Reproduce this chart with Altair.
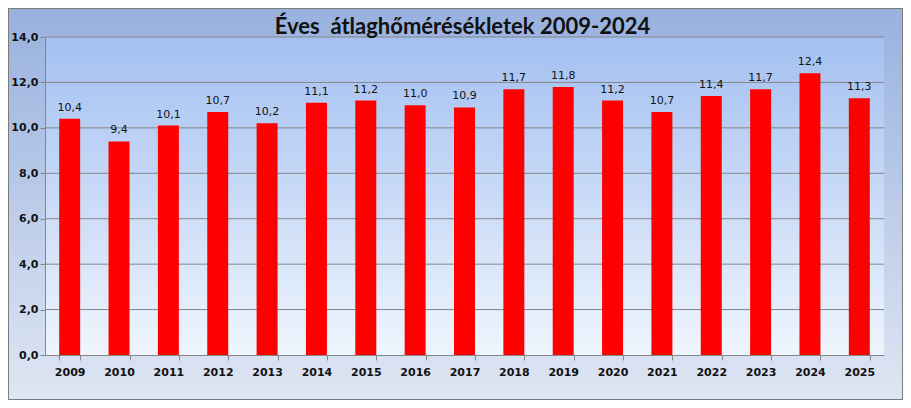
import altair as alt
import pandas as pd

years = ["2009", "2010", "2011", "2012", "2013", "2014", "2015", "2016", "2017",
         "2018", "2019", "2020", "2021", "2022", "2023", "2024", "2025"]
temps = [10.4, 9.4, 10.1, 10.7, 10.2, 11.1, 11.2, 11.0, 10.9,
         11.7, 11.8, 11.2, 10.7, 11.4, 11.7, 12.4, 11.3]
y_ticks = [0, 2, 4, 6, 8, 10, 12, 14]
title_text = "Éves\u00a0 átlaghőmérésékletek 2009-2024"

W, H = 839, 318
PAD = {"left": 37, "top": 29, "right": 19, "bottom": 45}

df = pd.DataFrame({"year": years, "temp": temps})
df["label"] = [f"{t:.1f}".replace(".", ",") for t in temps]
grid_df = pd.DataFrame({"temp": y_ticks[1:]})
one = pd.DataFrame({"a": [0]})

def vgrad(c1, c2):
    return alt.LinearGradient(
        gradient="linear", x1=0, x2=0, y1=0, y2=1,
        stops=[alt.GradientStop(color=c1, offset=0), alt.GradientStop(color=c2, offset=1)],
    )

yscale = alt.Scale(domain=[0, 14], nice=False, zero=True)
xscale = alt.Scale(paddingInner=0.575, paddingOuter=0.2875)

yaxis = alt.Axis(values=y_ticks, grid=False, tickSize=5, labelPadding=2,
                 labelExpr="replace(format(datum.value, '.1f'), '.', ',')",
                 domainColor="#868686", tickColor="#868686",
                 labelFont="DejaVu Sans", labelFontWeight="bold",
                 labelFontSize=11, labelColor="#111111", zindex=1)

outer = alt.Chart(one).mark_rect(
    fill=vgrad("#98b1de", "#dfe6f3"), stroke="#7c7c7c", strokeWidth=2
).encode(
    x=alt.value(-PAD["left"]), x2=alt.value(W + PAD["right"]),
    y=alt.value(-PAD["top"]), y2=alt.value(H + PAD["bottom"]),
)

plot_bg = alt.Chart(one).mark_rect(fill=vgrad("#a3c0f1", "#eff5fd")).encode(
    x=alt.value(0), x2=alt.value(W), y=alt.value(0), y2=alt.value(H)
)

grid = alt.Chart(grid_df).mark_rule(color="#868686", strokeWidth=1).encode(
    y=alt.Y("temp:Q", scale=yscale, axis=yaxis, title=None)
)

bars = alt.Chart(df).mark_bar(color="#ff0000").encode(
    x=alt.X("year:N", sort=years, scale=xscale, title=None,
            axis=alt.Axis(labelAngle=0, tickBand="extent", tickSize=5,
                          labelPadding=6, domainColor="#868686", tickColor="#868686",
                          labelFont="DejaVu Sans", labelFontWeight="bold",
                          labelFontSize=11, labelColor="#111111", zindex=1)),
    y=alt.Y("temp:Q", scale=yscale, title=None, axis=yaxis),
)

labels = alt.Chart(df).mark_text(
    baseline="alphabetic", dy=-8, font="DejaVu Sans", fontSize=11, color="#111111"
).encode(
    x=alt.X("year:N", sort=years, scale=xscale),
    y=alt.Y("temp:Q", scale=yscale, axis=yaxis, title=None),
    text="label:N",
)

title = alt.Chart(one).mark_text(
    text=title_text, font="Lato", fontWeight="bold", fontSize=22,
    color="#111111", baseline="alphabetic", align="center"
).encode(x=alt.value(W / 2 - 2), y=alt.value(-3))

chart = alt.layer(outer, plot_bg, grid, bars, labels, title).properties(
    width=W, height=H, padding=PAD,
    autosize=alt.AutoSizeParams(type="none"),
).configure_view(stroke=None)

chart.save("out.html", embed_options={"renderer": "svg", "actions": False})
